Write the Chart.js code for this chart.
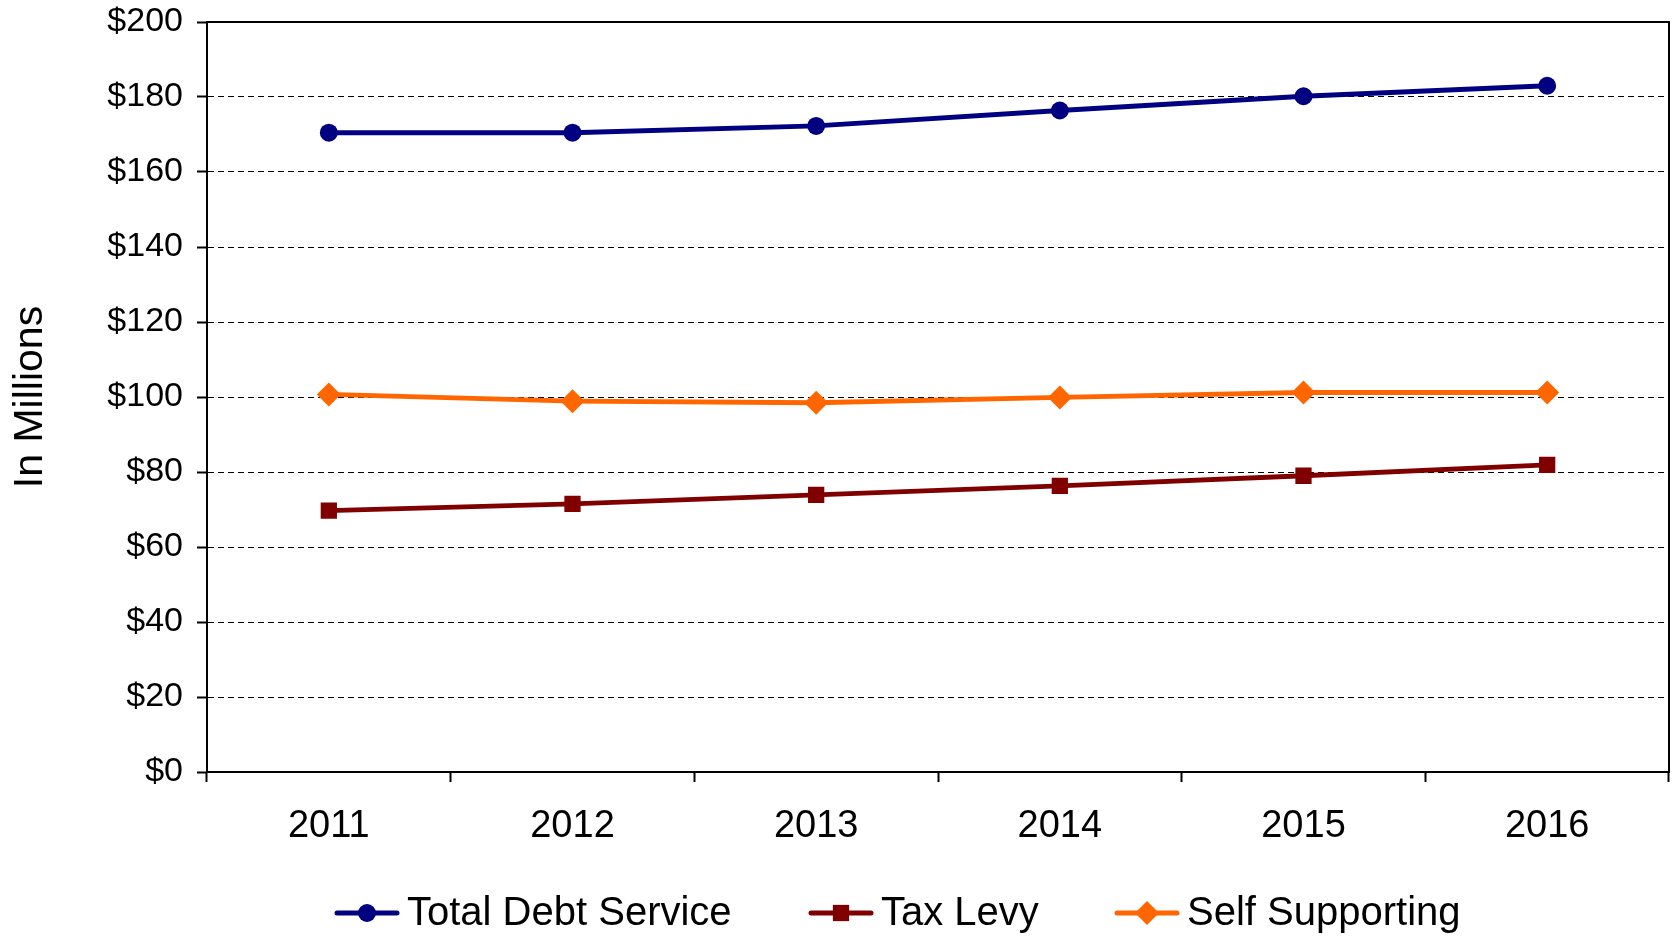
<!DOCTYPE html>
<html>
<head>
<meta charset="utf-8">
<title>Debt Service</title>
<script src="https://cdn.jsdelivr.net/npm/chart.js@4/dist/chart.umd.min.js"></script>
<style>
  html, body { margin: 0; padding: 0; background: #fff; }
  #wrap { width: 1673px; height: 936px; }
</style>
</head>
<body>
<div id="wrap"><canvas id="debtChart" width="1673" height="936"></canvas></div>
<script>
const years = ['2011', '2012', '2013', '2014', '2015', '2016'];
const totalDebtService = [170.5, 170.5, 172.3, 176.4, 180.2, 183.0];
const taxLevy = [69.7, 71.5, 73.9, 76.3, 79.0, 81.9];
const selfSupporting = [100.7, 98.9, 98.5, 99.9, 101.2, 101.2];

const FONT = '"Liberation Sans", Arial, sans-serif';

// solid frame on top and right of the plot area
const framePlugin = {
  id: 'frame',
  beforeDatasetsDraw(chart) {
    const { ctx, chartArea: a } = chart;
    ctx.save();
    ctx.strokeStyle = '#000';
    ctx.lineWidth = 2;
    ctx.beginPath();
    ctx.moveTo(a.left, a.top);
    ctx.lineTo(a.right, a.top);
    ctx.lineTo(a.right, a.bottom);
    ctx.stroke();
    ctx.restore();
  }
};

// line + marker legend along the bottom
const lineLegend = {
  id: 'lineLegend',
  afterDraw(chart, args, opts) {
    const { ctx } = chart;
    const y = opts.y;
    chart.data.datasets.forEach((ds, i) => {
      const x0 = opts.starts[i];
      ctx.save();
      ctx.strokeStyle = ds.borderColor;
      ctx.lineWidth = 5;
      ctx.lineCap = 'round';
      ctx.beginPath();
      ctx.moveTo(x0, y);
      ctx.lineTo(x0 + 60, y);
      ctx.stroke();
      ctx.fillStyle = ds.backgroundColor;
      const cx = x0 + 30, r = ds.pointRadius;
      ctx.beginPath();
      if (ds.pointStyle === 'circle') {
        ctx.arc(cx, y, r, 0, Math.PI * 2);
      } else if (ds.pointStyle === 'rect') {
        const s = r * Math.SQRT1_2;
        ctx.rect(cx - s, y - s, 2 * s, 2 * s);
      } else {
        ctx.moveTo(cx, y - r);
        ctx.lineTo(cx + r, y);
        ctx.lineTo(cx, y + r);
        ctx.lineTo(cx - r, y);
        ctx.closePath();
      }
      ctx.fill();
      ctx.fillStyle = '#000';
      ctx.font = '40px ' + FONT;
      ctx.textBaseline = 'middle';
      ctx.textAlign = 'left';
      ctx.fillText(ds.label, x0 + 70, y + 1);
      ctx.restore();
    });
  }
};

new Chart(document.getElementById('debtChart'), {
  type: 'line',
  data: {
    labels: years,
    datasets: [
      {
        label: 'Total Debt Service',
        data: totalDebtService,
        borderColor: '#000080',
        backgroundColor: '#000080',
        borderWidth: 5,
        pointStyle: 'circle',
        pointRadius: 9,
        pointBorderWidth: 0
      },
      {
        label: 'Tax Levy',
        data: taxLevy,
        borderColor: '#800000',
        backgroundColor: '#800000',
        borderWidth: 5,
        pointStyle: 'rect',
        pointRadius: 11.5,
        pointBorderWidth: 0
      },
      {
        label: 'Self Supporting',
        data: selfSupporting,
        borderColor: '#FF6600',
        backgroundColor: '#FF6600',
        borderWidth: 5,
        pointStyle: 'rectRot',
        pointRadius: 12,
        pointBorderWidth: 0
      }
    ]
  },
  options: {
    responsive: false,
    animation: false,
    events: [],
    layout: { autoPadding: false, padding: { top: 22, right: 4, bottom: 0, left: 0 } },
    elements: { line: { tension: 0 } },
    plugins: {
      legend: { display: false },
      tooltip: { enabled: false },
      lineLegend: { y: 913, starts: [337, 811, 1117] }
    },
    scales: {
      x: {
        offset: true,
        afterFit(scale) {
          scale.height = 164;
          scale.paddingLeft = 0;
          scale.paddingRight = 0;
        },
        grid: {
          offset: true,
          drawOnChartArea: false,
          drawTicks: true,
          tickLength: 10,
          tickColor: '#000',
          tickWidth: 2,
          color: '#000'
        },
        border: { color: '#000', width: 2 },
        ticks: {
          color: '#000',
          padding: 22,
          maxRotation: 0,
          font: { family: FONT, size: 38 }
        }
      },
      y: {
        min: 0,
        max: 200,
        afterFit(scale) {
          scale.width = 207;
          scale.paddingTop = 0;
          scale.paddingBottom = 0;
        },
        grid: {
          color: '#000',
          lineWidth: 1,
          drawTicks: true,
          tickLength: 10,
          tickColor: '#000',
          tickWidth: 2,
          tickBorderDash: []
        },
        border: { color: '#000', width: 2, dash: [6, 4] },
        ticks: {
          stepSize: 20,
          color: '#000',
          padding: 14,
          font: { family: FONT, size: 34 },
          callback: v => '$' + v
        },
        title: {
          display: true,
          text: 'In Millions',
          color: '#000',
          padding: { top: 6, bottom: 0 },
          font: { family: FONT, size: 41 }
        }
      }
    }
  },
  plugins: [framePlugin, lineLegend]
});
</script>
</body>
</html>
